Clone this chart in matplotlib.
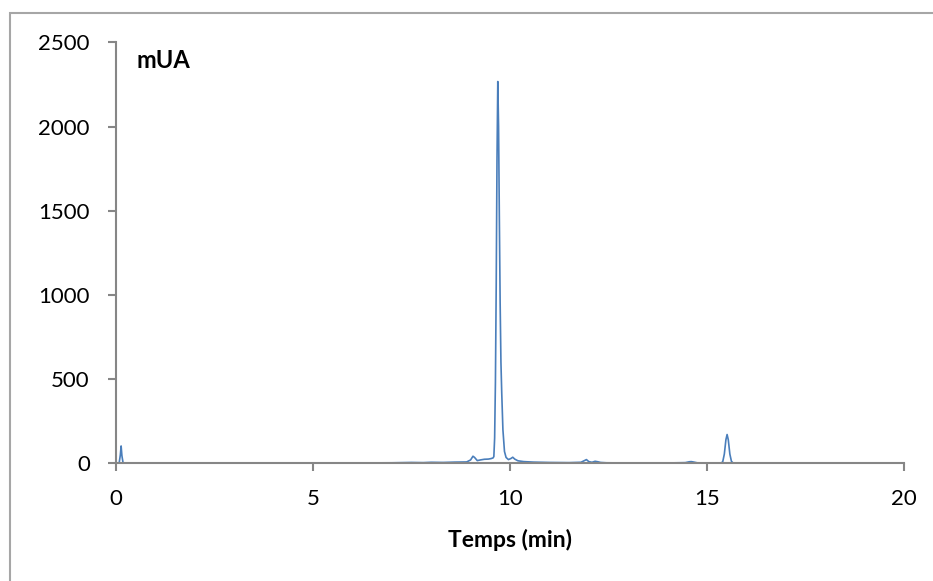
import matplotlib
matplotlib.use('Agg')
import matplotlib.pyplot as plt
from matplotlib.patches import Rectangle

plt.rcParams['font.family'] = ['Lato', 'DejaVu Sans']

# Chromatogram: time (min) and absorbance (mUA)
time_min = [0, 0.08, 0.11, 0.13, 0.15, 0.18, 0.25, 1, 2, 3, 4, 5, 6, 7,
            7.5, 7.8, 8.0, 8.3, 8.6, 8.9, 9.0, 9.06, 9.1, 9.17, 9.25, 9.35,
            9.45, 9.52, 9.57, 9.59, 9.61, 9.63, 9.65, 9.67, 9.69, 9.71, 9.73,
            9.75, 9.77, 9.79, 9.82, 9.86, 9.9, 9.96, 10.02, 10.07, 10.12,
            10.2, 10.35, 10.6, 11.0, 11.5, 11.8, 11.88, 11.94, 12.0, 12.08,
            12.16, 12.23, 12.3, 12.45, 13.0, 13.5, 14.0, 14.45, 14.55, 14.6,
            14.65, 14.75, 15.0, 15.36, 15.40, 15.44, 15.48, 15.51, 15.54,
            15.58, 15.62, 15.66, 16.0, 17.0, 18.0, 18.5]
signal_mua = [2, 2, 50, 103, 45, 2, 1, 1, 1, 1, 1, 1, 2, 3,
              5, 4, 6, 5, 7, 8, 20, 42, 35, 16, 20, 24,
              25, 28, 32, 40, 150, 480, 1050, 1800, 2268, 2000, 1450,
              950, 600, 420, 200, 70, 35, 22, 28, 36, 25,
              15, 10, 7, 5, 4, 6, 15, 22, 10, 6,
              12, 9, 5, 3, 2, 2, 2, 4, 9, 10,
              8, 3, 2, 1, 10, 55, 140, 171, 140,
              55, 12, 2, 1, 1, 1, 1]

x_ticks = [0, 5, 10, 15, 20]
y_ticks = [0, 500, 1000, 1500, 2000, 2500]

fig = plt.figure(figsize=(9.33, 5.81), dpi=100)
ax = fig.add_axes([116 / 933, 1 - 463.3 / 581, 788 / 933, 420.8 / 581])

ax.plot(time_min, signal_mua, color='#4A7EBB', linewidth=1.2)

ax.set_xlim(0, 20)
ax.set_ylim(0, 2500)
ax.set_xticks(x_ticks)
ax.set_yticks(y_ticks)

axis_grey = '#868686'
for side in ['top', 'right']:
    ax.spines[side].set_visible(False)
for side in ['left', 'bottom']:
    ax.spines[side].set_color(axis_grey)
    ax.spines[side].set_linewidth(1.5)
ax.tick_params(direction='out', length=5.8, width=1.5, color=axis_grey,
               labelsize=16, pad=13, labelcolor='black')

ax.set_xlabel('Temps (min)', fontsize=16.5, fontweight='bold', labelpad=14)
fig.text(136 / 933, 1 - 68 / 581, 'mUA', fontsize=17, fontweight='bold',
         va='baseline', ha='left')

# outer chart border
fig.patches.append(Rectangle((10 / 933, -0.1), 1.2, 1.1 - 13 / 581,
                             transform=fig.transFigure, fill=False,
                             edgecolor='#A6A6A6', linewidth=1.5))

plt.savefig('out.png', dpi=100)
